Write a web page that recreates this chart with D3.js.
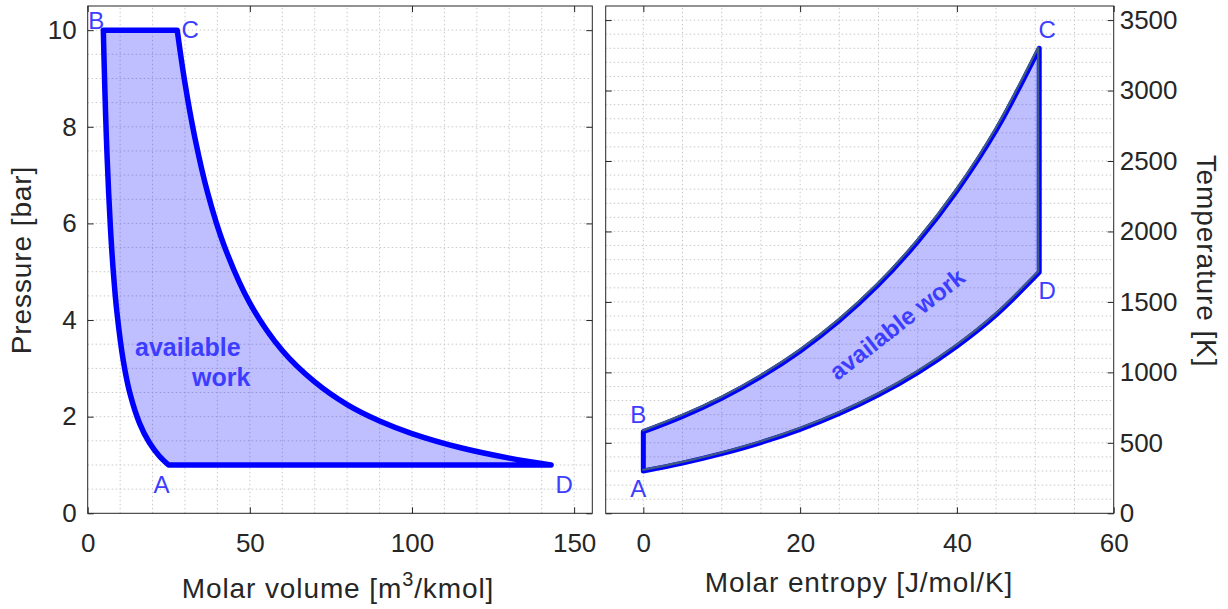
<!DOCTYPE html>
<html>
<head>
<meta charset="utf-8">
<script src="https://cdn.jsdelivr.net/npm/d3@7"></script>
<style>
body { margin: 0; background: #fff; }
svg { font-family: "Liberation Sans", Arial, Helvetica, sans-serif; }
</style>
</head>
<body>
<svg id="chart" width="1228" height="609"></svg>
<script>
// p-v diagram: molar volume [m3/kmol], pressure [bar]
let compV = [24.94, 22, 19, 16, 13, 11, 9, 8, 7, 6, 5.5, 5, 4.82]      // A -> B
let compP = [1, 1.192, 1.464, 1.862, 2.489, 3.146, 4.166, 4.91, 5.92, 7.35, 8.30, 9.49, 10]
let expV = [27.6, 30, 33, 37, 42, 50, 60, 70, 80, 90, 100, 115, 130, 142.9] // C -> D
let expP = [10, 8.90, 7.79, 6.63, 5.555, 4.35, 3.37, 2.72, 2.25, 1.91, 1.65, 1.356, 1.142, 1]

// T-s diagram: molar entropy [J/mol/K], temperature [K]
let heatS = [0, 5, 10, 15, 20, 25, 30, 35, 40, 45, 50.5]                // B -> C
let heatT = [579, 688, 817, 970, 1151, 1367, 1623, 1928, 2289, 2718, 3300]
let coolS = [0, 5, 10, 15, 20, 25, 30, 35, 40, 45, 50.5]                // A -> D
let coolT = [300, 356, 423, 502, 596, 708, 841, 999, 1186, 1408, 1710]

let pvPoints = ['A', 'B', 'C', 'D']
let pvXTicks = [0, 50, 100, 150]
let pvYTicks = [0, 2, 4, 6, 8, 10]
let tsXTicks = [0, 20, 40, 60]
let tsYTicks = [0, 500, 1000, 1500, 2000, 2500, 3000, 3500]

let svg = d3.select('#chart')
let blue = '#0000ff'
let labelBlue = '#3d3dff'
let ink = '#262626'

let pvX = d3.scaleLinear().domain([0, 155.6]).range([87.7, 592.3])
let pvY = d3.scaleLinear().domain([0, 10.5]).range([513.3, 6])
let tsX = d3.scaleLinear().domain([-4.8, 60]).range([605.7, 1113.7])
let tsY = d3.scaleLinear().domain([0, 3600]).range([513.3, 6])

let drawFrame = (x, y, xTicks, yTicks, xStep, yStep, yOnRight) => {
    let [x0, x1] = x.domain()
    let [y0, y1] = y.domain()
    let grid = svg.append('g')
        .attr('stroke', '#c8c8c8')
        .attr('stroke-width', 1)
        .attr('stroke-dasharray', '1.5,2.5')
    grid.selectAll('.gx')
        .data(d3.range(Math.ceil(x0 / xStep) * xStep, x1 + 1e-9, xStep).filter(v => v > x0 && v < x1))
        .enter().append('line')
        .attr('x1', d => x(d)).attr('x2', d => x(d))
        .attr('y1', y.range()[0]).attr('y2', y.range()[1])
    grid.selectAll('.gy')
        .data(d3.range(0, y1 + 1e-9, yStep).filter(v => v > y0 && v < y1))
        .enter().append('line')
        .attr('y1', d => y(d)).attr('y2', d => y(d))
        .attr('x1', x.range()[0]).attr('x2', x.range()[1])

    let styleAxis = (g) => {
        g.select('.domain').remove()
        g.selectAll('.tick line').attr('stroke', ink)
        g.selectAll('.tick text').attr('fill', ink).style('font-size', '26px')
    }
    let [bx0, bx1] = x.range()
    let [by0, by1] = y.range()
    svg.append('g').attr('transform', `translate(0,${by0})`)
        .call(d3.axisBottom(x).tickValues(xTicks).tickSizeInner(-6).tickSizeOuter(0).tickPadding(20))
        .call(styleAxis)
    svg.append('g').attr('transform', `translate(0,${by1})`)
        .call(d3.axisTop(x).tickValues(xTicks).tickSizeInner(-6).tickSizeOuter(0).tickFormat(''))
        .call(styleAxis)
    svg.append('g').attr('transform', `translate(${bx0},0)`)
        .call(d3.axisLeft(y).tickValues(yTicks).tickSizeInner(-6).tickSizeOuter(0).tickPadding(11)
            .tickFormat(yOnRight ? '' : d3.format('d')))
        .call(styleAxis)
    svg.append('g').attr('transform', `translate(${bx1},0)`)
        .call(d3.axisRight(y).tickValues(yTicks).tickSizeInner(-6).tickSizeOuter(0).tickPadding(6)
            .tickFormat(yOnRight ? d3.format('d') : ''))
        .call(styleAxis)
    svg.append('rect')
        .attr('x', bx0).attr('y', by1)
        .attr('width', bx1 - bx0).attr('height', by0 - by1)
        .attr('fill', 'none').attr('stroke', ink).attr('stroke-width', 1)
}

let curve = d3.line().curve(d3.curveCatmullRom.alpha(0.5))
let asL = (d) => d.replace(/^M/, 'L')

// ---------- left: p-v ----------
drawFrame(pvX, pvY, pvXTicks, pvYTicks, 10, 0.5, false)

let comp = compV.map((v, i) => [pvX(v), pvY(compP[i])])
let expn = expV.map((v, i) => [pvX(v), pvY(expP[i])])
let pvPath = curve(comp) + asL(curve(expn)) + 'Z'

svg.append('path')
    .attr('d', pvPath)
    .attr('fill', blue).attr('fill-opacity', 0.25)
    .attr('stroke', blue).attr('stroke-width', 5.5)
    .attr('stroke-linejoin', 'round')

let pvCorner = {
    A: [compV[0], compP[0]], B: [compV[compV.length - 1], compP[compP.length - 1]],
    C: [expV[0], expP[0]], D: [expV[expV.length - 1], expP[expP.length - 1]]
}
let pvOffset = { A: [-7, 28], B: [-7, -1], C: [13, 8], D: [13, 28] }
svg.selectAll('.pvlab')
    .data(pvPoints)
    .enter().append('text')
    .attr('x', d => pvX(pvCorner[d][0]) + pvOffset[d][0])
    .attr('y', d => pvY(pvCorner[d][1]) + pvOffset[d][1])
    .attr('text-anchor', 'middle')
    .attr('fill', labelBlue)
    .style('font-size', '24px')
    .text(d => d)

svg.append('text').attr('x', 135).attr('y', 356)
    .attr('fill', labelBlue).style('font-size', '25px').style('font-weight', 'bold')
    .text('available')
svg.append('text').attr('x', 192).attr('y', 386)
    .attr('fill', labelBlue).style('font-size', '25px').style('font-weight', 'bold')
    .text('work')

// ---------- right: T-s ----------
drawFrame(tsX, tsY, tsXTicks, tsYTicks, 5, 100, true)

let heat = heatS.map((s, i) => [tsX(s), tsY(heatT[i])])
let cool = coolS.map((s, i) => [tsX(s), tsY(coolT[i])])
let tsPath = curve(cool) + asL(curve(heat.slice().reverse())) + 'Z'

svg.append('path')
    .attr('d', tsPath)
    .attr('fill', blue).attr('fill-opacity', 0.25)
    .attr('stroke', blue).attr('stroke-width', 5)
    .attr('stroke-linejoin', 'round')

// thin darker trace on top of the curved edges
svg.append('path')
    .attr('d', curve(cool) + asL(curve(heat.slice().reverse())))
    .attr('transform', 'translate(-1,-1)')
    .attr('fill', 'none')
    .attr('stroke', '#3f5d7d').attr('stroke-width', 2.2)

let tsCorner = {
    A: [coolS[0], coolT[0]], B: [heatS[0], heatT[0]],
    C: [heatS[heatS.length - 1], heatT[heatT.length - 1]],
    D: [coolS[coolS.length - 1], coolT[coolT.length - 1]]
}
let tsOffset = { A: [-5, 26], B: [-5, -9], C: [8, -10], D: [8, 27] }
svg.selectAll('.tslab')
    .data(pvPoints)
    .enter().append('text')
    .attr('x', d => tsX(tsCorner[d][0]) + tsOffset[d][0])
    .attr('y', d => tsY(tsCorner[d][1]) + tsOffset[d][1])
    .attr('text-anchor', 'middle')
    .attr('fill', labelBlue)
    .style('font-size', '24px')
    .text(d => d)

svg.append('text')
    .attr('transform', 'translate(897,324) rotate(-38)')
    .attr('text-anchor', 'middle').attr('dominant-baseline', 'central')
    .attr('fill', labelBlue).style('font-size', '24px').style('font-weight', 'bold')
    .text('available work')

// ---------- axis titles ----------
let titleStyle = (t) => t.attr('fill', ink).attr('text-anchor', 'middle')
    .style('font-size', '28px').style('letter-spacing', '0.9px')

let pvTitle = svg.append('text')
    .attr('x', 338).attr('y', 598)
    .call(titleStyle)
pvTitle.append('tspan').text('Molar volume [m')
pvTitle.append('tspan').attr('dy', -12).style('font-size', '20px').text('3')
pvTitle.append('tspan').attr('dy', 12).text('/kmol]')

svg.append('text')
    .attr('x', 859).attr('y', 592)
    .call(titleStyle)
    .text('Molar entropy [J/mol/K]')

svg.append('text')
    .attr('transform', 'translate(31,260) rotate(-90)')
    .call(titleStyle)
    .text('Pressure [bar]')

svg.append('text')
    .attr('transform', 'translate(1197,261) rotate(90)')
    .call(titleStyle)
    .text('Temperature [K]')
</script>
</body>
</html>
